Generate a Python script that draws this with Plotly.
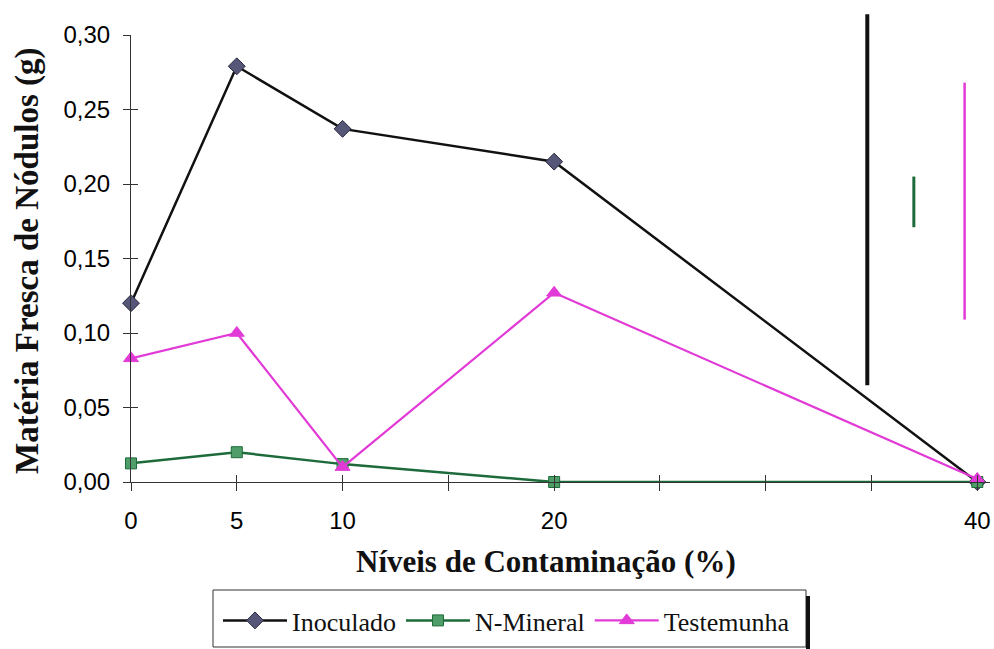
import plotly.graph_objects as go

# Contamination levels (%) and nodule fresh mass (g) per treatment
niveis = [0, 5, 10, 20, 40]
inoculado = [0.120, 0.279, 0.237, 0.215, 0.000]
n_mineral = [0.0125, 0.020, 0.012, 0.000, 0.000]
testemunha = [0.083, 0.100, 0.010, 0.127, 0.002]

# Vertical LSD bars (one per treatment): x position, lower and upper end
dms_x = [34.8, 37.0, 39.4]
dms_low = [0.065, 0.171, 0.109]
dms_high = [0.314, 0.205, 0.268]

x_ticks = [0, 5, 10, 15, 20, 25, 30, 35, 40]
x_labels = ["0", "5", "10", "", "20", "", "", "", "40"]
y_ticks = [0.00, 0.05, 0.10, 0.15, 0.20, 0.25, 0.30]
y_labels = ["0,00", "0,05", "0,10", "0,15", "0,20", "0,25", "0,30"]

BLACK = "#111111"
GREEN_LINE = "#1d6b3a"
GREEN_FILL = "#4f9d68"
MAGENTA = "#e23ad6"
DIAMOND_FILL = "#565678"
AXIS = "#333333"

SANS = "Liberation Sans, Arial, sans-serif"
SERIF = "Liberation Serif, Times New Roman, serif"

Y_MAX = 0.30
TOP_FRAC = 447 / 471  # share of the plot height taken by the 0..0.30 axis

# pixel frame of the plotting area (used for paper-space placement of text)
L, R, T, B = 131, 4, 11, 167
PW, PH = 994 - L - R, 649 - T - B


def px_x(p):
    return (p - L) / PW


def px_y(p):
    return (649 - B - p) / PH


fig = go.Figure()

fig.add_trace(go.Scatter(
    x=niveis, y=inoculado, name="Inoculado", mode="lines+markers",
    line=dict(color=BLACK, width=2.5),
    marker=dict(symbol="diamond", size=13, color=DIAMOND_FILL,
                line=dict(color="#2a2a40", width=1)),
    cliponaxis=False,
))
fig.add_trace(go.Scatter(
    x=niveis, y=n_mineral, name="N-Mineral", mode="lines+markers",
    line=dict(color=GREEN_LINE, width=2.5),
    marker=dict(symbol="square", size=11, color=GREEN_FILL,
                line=dict(color=GREEN_LINE, width=1)),
    cliponaxis=False,
))
fig.add_trace(go.Scatter(
    x=niveis, y=testemunha, name="Testemunha", mode="lines+markers",
    line=dict(color=MAGENTA, width=2.2),
    marker=dict(symbol="triangle-up", size=13, color=MAGENTA,
                line=dict(color=MAGENTA, width=1)),
    cliponaxis=False,
))

# LSD bars live on an axis that reaches a little above 0,30
for xv, lo, hi, col, w in zip(dms_x, dms_low, dms_high,
                              [BLACK, GREEN_LINE, MAGENTA], [4, 3, 2.5]):
    fig.add_trace(go.Scatter(
        x=[xv, xv], y=[lo, hi], mode="lines", xaxis="x", yaxis="y2",
        line=dict(color=col, width=w), showlegend=False, hoverinfo="skip",
    ))

# empty trace carrying the inward half of the crossing tick marks
fig.add_trace(go.Scatter(x=[None], y=[None], xaxis="x3", yaxis="y3",
                         showlegend=False, hoverinfo="skip"))

fig.update_layout(
    width=994, height=649,
    margin=dict(l=L, r=R, t=T, b=B, autoexpand=False),
    paper_bgcolor="white", plot_bgcolor="rgba(0,0,0,0)",
    showlegend=True,
    xaxis=dict(
        range=[0, 40.6], anchor="y",
        showline=True, linecolor=AXIS, linewidth=1,
        ticks="outside", ticklen=8, tickcolor=AXIS,
        tickvals=x_ticks, ticktext=x_labels, ticklabelstandoff=9,
        tickfont=dict(family=SANS, size=24, color="black"),
        showgrid=False, zeroline=False,
    ),
    yaxis=dict(
        domain=[0, TOP_FRAC], range=[0, Y_MAX], anchor="x",
        showline=True, linecolor=AXIS, linewidth=1,
        ticks="outside", ticklen=7, tickcolor=AXIS,
        tickvals=y_ticks, ticktext=y_labels, ticklabelstandoff=8,
        tickfont=dict(family=SANS, size=24, color="black"),
        showgrid=False, zeroline=False,
    ),
    yaxis2=dict(
        domain=[0, 1], range=[0, Y_MAX / TOP_FRAC], anchor="x",
        visible=False,
    ),
    xaxis3=dict(
        overlaying="x", anchor="y3", range=[0, 40.6],
        ticks="inside", ticklen=7, tickcolor=AXIS, tickvals=x_ticks,
        showticklabels=False, showline=False, showgrid=False, zeroline=False,
    ),
    yaxis3=dict(
        overlaying="y", anchor="x3", range=[0, Y_MAX],
        ticks="inside", ticklen=7, tickcolor=AXIS, tickvals=y_ticks,
        showticklabels=False, showline=False, showgrid=False, zeroline=False,
    ),
    legend=dict(
        orientation="h", x=px_x(218), y=px_y(597),
        xanchor="left", yanchor="top",
        borderwidth=0, bgcolor="rgba(0,0,0,0)",
        font=dict(family=SERIF, size=26, color="#111111"),
        itemwidth=64,
    ),
    shapes=[
        # legend frame with its dark right-hand shadow edge
        dict(type="rect", xref="paper", yref="paper", layer="below",
             x0=px_x(213), x1=px_x(806), y0=px_y(647), y1=px_y(590),
             line=dict(color="#333333", width=1), fillcolor="white"),
        dict(type="line", xref="paper", yref="paper",
             x0=px_x(808), x1=px_x(808), y0=px_y(596), y1=px_y(649),
             line=dict(color="#111111", width=4)),
    ],
    annotations=[
        dict(text="<b>Níveis de Contaminação (%)</b>", xref="paper", yref="paper",
             x=px_x(546), y=px_y(561),
             xanchor="center", yanchor="middle", showarrow=False,
             font=dict(family=SERIF, size=31, color="#111111")),
        dict(text="<b>Matéria Fresca de Nódulos (g)</b>", xref="paper", yref="paper",
             x=px_x(27), y=px_y(261), textangle=-90,
             xanchor="center", yanchor="middle", showarrow=False,
             font=dict(family=SERIF, size=33, color="#111111")),
    ],
)

fig.write_html("out.html")
